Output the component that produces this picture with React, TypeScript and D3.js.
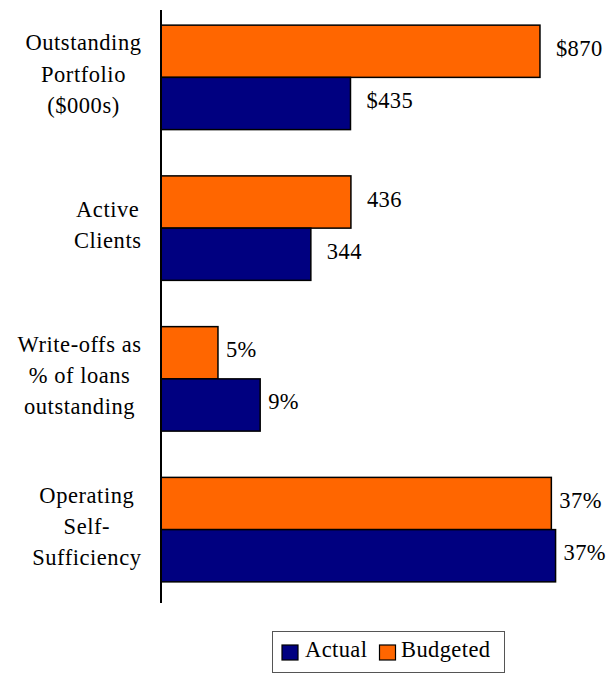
import React, { useEffect, useRef } from "react";
import * as d3 from "d3";

const categories = ["Outstanding Portfolio ($000s)", "Active Clients", "Write-offs as % of loans outstanding", "Operating Self-Sufficiency"];
const categoryLines = [
  ["Outstanding", "Portfolio", "($000s)"],
  ["Active", "Clients"],
  ["Write-offs as", "% of loans", "outstanding"],
  ["Operating", "Self-", "Sufficiency"],
];
const units = ["count", "count", "pct", "pct"];
const actualValues = [435, 344, 9.4, 37.4];
const budgetedValues = [870, 436, 5.4, 37.0];
const actualLabels = ["$435", "344", "9%", "37%"];
const budgetedLabels = ["$870", "436", "5%", "37%"];
const seriesNames = ["Actual", "Budgeted"];
const seriesColors = ["#000080", "#FF6600"];

const W = 615;
const H = 673;
const FS = 22.5;
const LS = 0.55;

export default function App() {
  const ref = useRef<SVGSVGElement | null>(null);

  useEffect(() => {
    const svg = d3.select(ref.current);
    svg.selectAll("*").remove();

    const addText = (parent: any, x: number, y: number, str: string, anchor = "start", ls = LS) =>
      parent.append("text")
        .attr("x", x)
        .attr("y", y)
        .attr("text-anchor", anchor)
        .attr("font-size", FS)
        .attr("letter-spacing", ls)
        .style("font-family", "Liberation Serif")
        .attr("fill", "#000")
        .text(str);

    const x0 = 161;
    const xCount = d3.scaleLinear().domain([0, 1000]).range([x0, x0 + 435.6]);
    const xPct = d3.scaleLinear().domain([0, 40]).range([x0, x0 + 422]);
    const scaleFor = (u: string) => (u === "count" ? xCount : xPct);

    const y = d3.scaleBand<string>().domain(categories).range([2, 605]).paddingInner(0.307).paddingOuter(0.1535);
    const ySeries = d3.scaleBand<string>().domain(["Budgeted", "Actual"]).range([0, y.bandwidth()]);

    const g = svg.append("g");
    categories.forEach((c, i) => {
      const sx = scaleFor(units[i]);
      const gap = units[i] === "count" ? 16 : 8;
      const rows = [
        { s: "Budgeted", v: budgetedValues[i], lab: budgetedLabels[i], col: seriesColors[1] },
        { s: "Actual", v: actualValues[i], lab: actualLabels[i], col: seriesColors[0] },
      ];
      rows.forEach((r) => {
        const top = (y(c) as number) + (ySeries(r.s) as number);
        g.append("rect")
          .attr("x", sx(0))
          .attr("y", top)
          .attr("width", sx(r.v) - sx(0))
          .attr("height", ySeries.bandwidth())
          .attr("fill", r.col)
          .attr("stroke", "#000")
          .attr("stroke-width", 1.5);
        addText(g, sx(r.v) + gap, top + ySeries.bandwidth() / 2 + 4.5, r.lab, "start", 0.4);
      });

      const lines = categoryLines[i];
      const center = (y(c) as number) + y.bandwidth() / 2;
      const texts = lines.map((ln, k) =>
        addText(g, 0, center + 4.3 + (k - (lines.length - 1) / 2) * 31.3, ln, "middle")
      );
      const widths = texts.map((t) => (t.node() as SVGTextElement).getComputedTextLength());
      const maxW = d3.max(widths) as number;
      const cx = 141.5 - maxW / 2;
      texts.forEach((t) => t.attr("x", cx));
    });

    svg.append("line").attr("x1", x0).attr("x2", x0).attr("y1", 10).attr("y2", 603)
      .attr("stroke", "#000").attr("stroke-width", 2);

    const lg = svg.append("g");
    lg.append("rect").attr("x", 272.5).attr("y", 631.5).attr("width", 232).attr("height", 41)
      .attr("fill", "#fff").attr("stroke", "#555").attr("stroke-width", 1);
    const items = [
      { name: seriesNames[0], col: seriesColors[0], sx: 282, tx: 305 },
      { name: seriesNames[1], col: seriesColors[1], sx: 379.5, tx: 401 },
    ];
    items.forEach((it) => {
      lg.append("rect").attr("x", it.sx).attr("y", 645).attr("width", 16).attr("height", 15)
        .attr("fill", it.col).attr("stroke", "#000").attr("stroke-width", 1.2);
      addText(lg, it.tx, 657, it.name, "start", 0.4);
    });
  }, []);

  return (
    <svg
      ref={ref}
      width={W}
      height={H}
      style={{ position: "absolute", left: 0, top: 0, background: "#fff", fontFamily: "Liberation Serif" }}
    />
  );
}
